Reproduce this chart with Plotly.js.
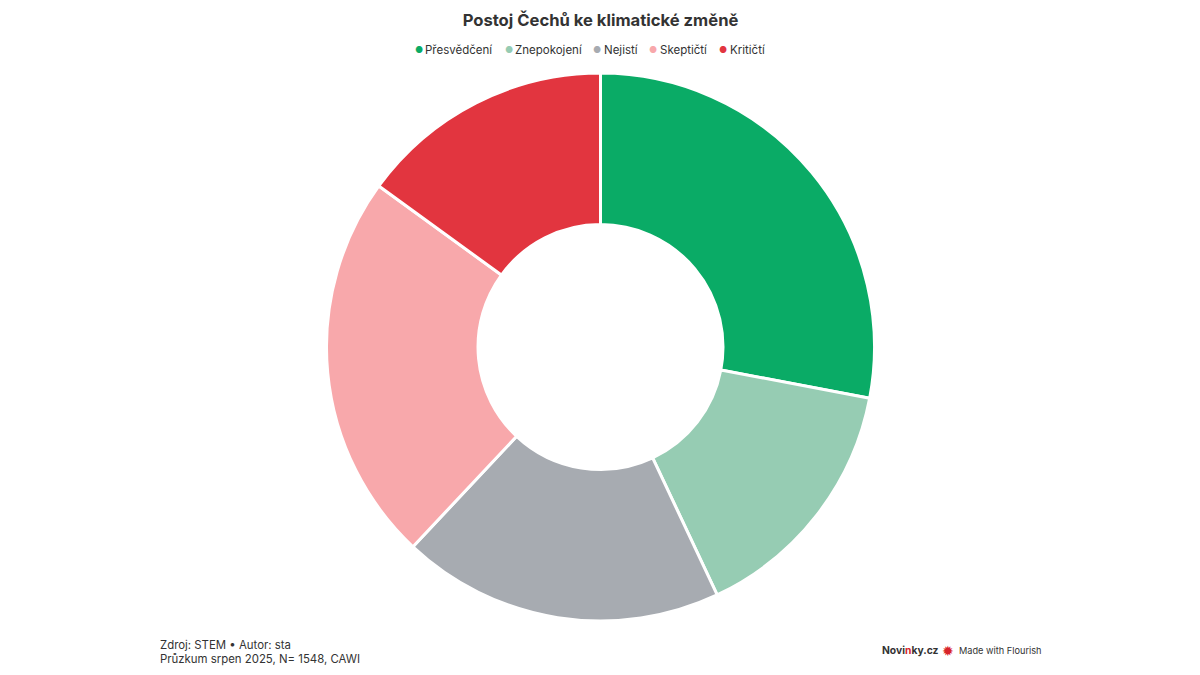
<!DOCTYPE html>
<html><head><meta charset="utf-8">
<script src="https://cdn.plot.ly/plotly-3.0.1.min.js"></script>
<style>html,body{margin:0;padding:0;background:#fff}#c{width:1200px;height:675px}
.slicetext{transform:translateY(-4px)}</style></head>
<body><div id="c"></div>
<script>
const categories = ["Přesvědčení","Znepokojení","Nejistí","Skeptičtí","Kritičtí"];
const values = [28,15,19,23,15];
const colors = ["#0aab66","#96ccb3","#a7abb1","#f8a8ab","#e2353f"];
const legendDotX = [418.5,508.5,597,653,723];
const legendTextX = [424,514,603,659,729];
const F = "Inter, 'Noto Sans', sans-serif";
const ink = "#333333";
const W = 1200, H = 675, mL = 1, mT = 73, mB = 54;
const trace = {
  type:"pie", labels:categories, values:values, sort:false, direction:"clockwise", rotation:0,
  hole:0.447, marker:{colors:colors,line:{color:"#fff",width:3}},
  text:values.map(v=>v+" %"), textinfo:"text", textposition:"inside", insidetextorientation:"horizontal",
  textfont:{family:F,size:12,weight:700,color:"#1f1f1f",
    shadow:"1px 1px 1px #fff,-1px -1px 1px #fff,1px -1px 1px #fff,-1px 1px 1px #fff,0 1px 1px #fff,0 -1px 1px #fff,1px 0 1px #fff,-1px 0 1px #fff"},
  hoverinfo:"label+percent"
};
const ann = (x,y,text,size,anchor,extra)=>Object.assign({xref:"paper",yref:"paper",
  x:(x-mL)/(W-mL),y:1-(y-mT)/(H-mT-mB),text:text,showarrow:false,
  xanchor:anchor,yanchor:"middle",align:"left",borderpad:0,font:{family:F,size:size,color:ink}},extra||{});
const annotations = [];
categories.forEach((c,i)=>{
  annotations.push(ann(legendDotX[i],49.5,`<span style="color:${colors[i]}">●</span>`,9,"center"));
  annotations.push(ann(legendTextX[i],50,c,11.5,"left"));
});
annotations.push(ann(159,645,"Zdroj: STEM • Autor: sta",11.4,"left"));
annotations.push(ann(159,659,"Průzkum srpen 2025, N= 1548, CAWI",11.4,"left"));
annotations.push(ann(881,650,'<b>Novi<span style="color:#d8232a">n</span>ky.cz</b>',10.3,"left"));
annotations.push(ann(941,650,'<span style="color:#d8232a">✹</span>',14,"left"));
annotations.push(ann(958,650,"Made with Flourish",9.2,"left"));
Plotly.newPlot("c",[trace],{
  width:W,height:H,paper_bgcolor:"#fff",showlegend:false,
  margin:{l:mL,r:0,t:mT,b:mB,autoexpand:false},
  title:{text:"<b>Postoj Čechů ke klimatické změně</b>",x:0.5,xanchor:"center",xref:"paper",yref:"container",y:1-20/H,yanchor:"middle",font:{family:F,size:16.6,color:ink}},
  annotations:annotations
},{displayModeBar:false});
</script></body></html>
